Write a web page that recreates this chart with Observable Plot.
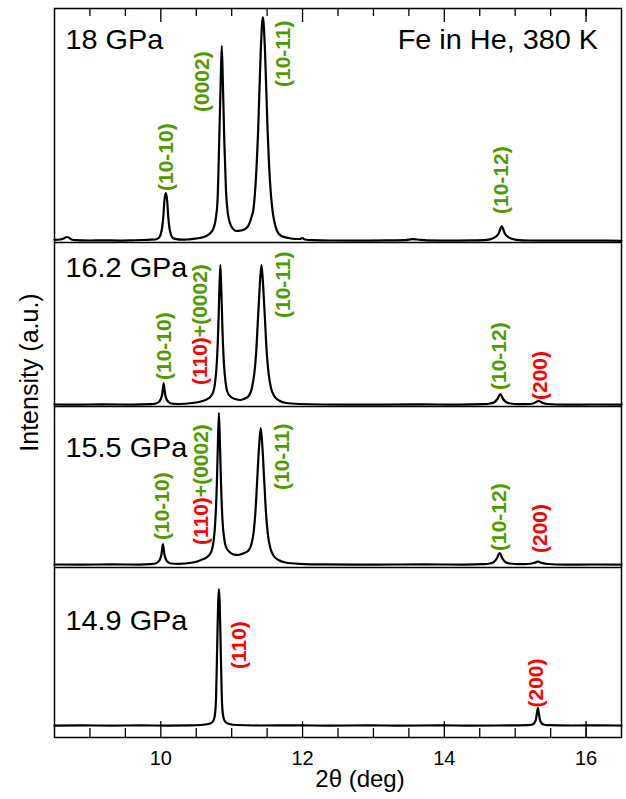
<!DOCTYPE html>
<html><head><meta charset="utf-8">
<script src="https://cdn.jsdelivr.net/npm/d3@7"></script>
<script src="https://cdn.jsdelivr.net/npm/@observablehq/plot@0.6"></script>
<style>body{margin:0;background:#fff} svg{display:block}</style>
</head><body><div id="chart"></div>
<script>
// ---- data ----
const panels = ["18 GPa", "16.2 GPa", "15.5 GPa", "14.9 GPa"];
const offsets = [496.5, 332.5, 172.5, 11.5];      // baseline of each stacked pattern (a.u.)
const separators = [495, 331, 170];                // panel boundaries (a.u.)
const panelLabelY = [192, 128, 108, 96.5];         // panel label height above baseline
const title = "Fe in He, 380 K";

const spec18 = [[8.5,1.2],[8.58,1.5],[8.63,2.5],[8.67,4],[8.7,3.5],[8.74,1.5],[8.8,0.8],[9.0,0.5],[9.2,0.7],[9.4,0.4],[9.6,0.7],[9.75,1],[9.85,1.3],
 [9.92,1.5],[9.97,3],[10.0,7],[10.02,14],[10.035,24],[10.05,40],[10.07,48],[10.09,40],[10.105,24],[10.12,14],[10.14,7],[10.17,3],[10.22,1.8],[10.3,1.3],[10.38,1.5],[10.46,2.2],
 [10.55,3],[10.64,5],[10.7,8],[10.74,12],[10.775,22],[10.8,40],[10.823,97],[10.845,160],[10.86,195],[10.875,160],[10.897,97],[10.92,50],[10.945,28],[10.98,17],[11.02,12],[11.07,10],
 [11.13,10.5],[11.19,12],[11.24,16],[11.28,24],[11.305,31],[11.34,60],[11.374,112],[11.41,190],[11.44,224],[11.47,190],[11.506,112],[11.54,60],[11.575,31],[11.6,20],[11.64,10],[11.7,5],[11.8,3],[11.9,2],
 [11.96,2],[12.0,3],[12.03,1.5],[12.15,0.8],[12.4,0.5],[12.8,0.4],[13.2,0.6],[13.45,0.8],[13.55,1.8],[13.62,1.5],[13.75,0.6],[14.1,0.4],[14.4,0.6],
 [14.6,1.2],[14.68,2.5],[14.73,4.5],[14.77,8],[14.79,12],[14.81,15],[14.83,12],[14.85,8],[14.89,4.5],[14.94,2.5],[15.02,1.2],[15.2,0.5],[15.6,0.3],[16.0,0.4],[16.5,0.2]];

const spec162 = [[8.5,0.5],[8.8,0.4],[9.2,0.6],[9.6,0.4],[9.85,0.8],[9.93,1.5],[9.97,3],[10.0,6],[10.02,11],[10.04,22],[10.06,11],[10.08,6],[10.11,3],[10.15,1.5],[10.25,1],
 [10.44,2],[10.59,4],[10.69,7.5],[10.74,13],[10.765,22],[10.79,42],[10.81,75],[10.825,112],[10.84,140],[10.855,112],[10.87,75],[10.89,42],[10.915,22],[10.94,13],[10.99,8],[11.05,6],[11.12,5],
 [11.17,6],[11.24,9],[11.285,17],[11.32,32],[11.345,52],[11.37,85],[11.395,118],[11.42,140],[11.445,118],[11.47,85],[11.495,52],[11.52,32],[11.555,17],[11.6,9],[11.67,4.5],[11.77,2],[11.95,1],
 [12.3,0.5],[13.0,0.4],[13.6,0.6],[14.2,0.4],[14.55,0.8],[14.65,1.5],[14.71,3],[14.75,6],[14.79,11],[14.83,6],[14.87,3],[14.93,1.5],[15.05,0.8],
 [15.2,1],[15.27,2],[15.31,3.5],[15.33,4],[15.35,3.5],[15.39,2],[15.46,1],[15.7,0.4],[16.1,0.5],[16.5,0.4]];

const spec155 = [[8.5,0.5],[8.9,0.4],[9.3,0.6],[9.7,0.4],[9.85,0.8],[9.92,1.5],[9.96,3],[9.99,6],[10.01,11],[10.03,21],[10.05,11],[10.07,6],[10.1,3],[10.14,1.5],[10.25,1.2],
 [10.45,2.5],[10.57,5],[10.67,9],[10.72,15],[10.745,24],[10.77,45],[10.79,80],[10.805,120],[10.82,152],[10.835,120],[10.85,80],[10.87,45],[10.895,26],[10.92,18],[10.97,13],[11.03,10.5],[11.09,10],
 [11.16,11.5],[11.23,14],[11.275,20],[11.31,33],[11.335,53],[11.36,85],[11.385,117],[11.41,137],[11.435,116],[11.46,83],[11.485,51],[11.51,31],[11.545,17],[11.59,9.5],[11.66,5],[11.76,2.5],[11.95,1.2],
 [12.3,0.6],[13.0,0.4],[13.7,0.6],[14.3,0.4],[14.55,0.8],[14.64,1.5],[14.7,3],[14.74,6.5],[14.78,12],[14.82,6.5],[14.86,3],[14.92,1.5],[15.05,0.8],
 [15.18,1],[15.26,2],[15.3,3],[15.32,3.5],[15.34,3],[15.38,2],[15.46,1],[15.7,0.4],[16.1,0.5],[16.5,0.4]];

const spec149 = [[8.5,0.4],[8.9,0.6],[9.3,0.4],[9.7,0.6],[10.1,0.4],[10.4,0.6],
 [10.57,1],[10.67,2],[10.72,3.5],[10.745,6],[10.765,12],[10.78,30],[10.792,68],[10.8,95],[10.81,125],[10.82,137],[10.83,125],[10.84,95],[10.848,68],[10.86,30],[10.875,12],[10.895,6],[10.92,3.5],[10.97,2],[11.07,1],
 [11.4,0.5],[11.9,0.6],[12.4,0.4],[12.9,0.6],[13.4,0.4],[13.9,0.6],[14.4,0.4],[14.9,0.6],
 [15.18,0.8],[15.24,1.5],[15.27,3],[15.29,6],[15.305,12],[15.32,18],[15.335,12],[15.35,6],[15.37,3],[15.4,1.5],[15.46,0.8],[15.8,0.5],[16.2,0.6],[16.5,0.4]];

const spectra = [spec18, spec162, spec155, spec149];

// peak labels: [panel index, 2θ, height of label start above baseline, text, phase]
const peakLabels = [
  [0, 10.07, 50, "(10-10)", "hcp"], [0, 10.59, 129, "(0002)", "hcp"], [0, 11.73, 154, "(10-11)", "hcp"], [0, 14.81, 27, "(10-12)", "hcp"],
  [1, 10.05, 25, "(10-10)", "hcp"], [1, 10.55, 20, "(110)+(0002)", "mix"], [1, 11.73, 87, "(10-11)", "hcp"], [1, 14.77, 15, "(10-12)", "hcp"], [1, 15.36, 5, "(200)", "bcc"],
  [2, 10.02, 25, "(10-10)", "hcp"], [2, 10.57, 20, "(110)+(0002)", "mix"], [2, 11.72, 75, "(10-11)", "hcp"], [2, 14.77, 14, "(10-12)", "hcp"], [2, 15.35, 12, "(200)", "bcc"],
  [3, 11.11, 57, "(110)", "bcc"], [3, 15.30, 18.5, "(200)", "bcc"]
];
const xMinor = [9, 9.5, 10.5, 11, 11.5, 12.5, 13, 13.5, 14.5, 15, 15.5, 16];
const xMajor = [10, 12, 14, 16];
const GREEN = "#4f9a00", RED = "#ff0000";

// ---- build ----
const rows = spectra.flatMap((s, i) => s.map(([x, v]) => ({panel: panels[i], x, y: offsets[i] + v})));
const labRows = peakLabels.map(([i, x, h, text, phase]) => ({x, y: offsets[i] + h, text, phase}));
const panelRows = panels.map((p, i) => ({text: p, x: 8.655, y: offsets[i] + panelLabelY[i]}));

const font = "'Liberation Sans', Arial, Helvetica, sans-serif";
const chart = Plot.plot({
  width: 626, height: 799,
  marginLeft: 54, marginRight: 5, marginTop: 8, marginBottom: 62,
  style: {fontFamily: font, background: "white", overflow: "visible"},
  x: {domain: [8.5, 16.5]},
  y: {domain: [0, 729], axis: null},
  marks: [
    Plot.ruleY(separators, {strokeWidth: 1.5}),
    Plot.line(rows, {x: "x", y: "y", z: "panel", stroke: "black", strokeWidth: 2.2, curve: "monotone-x"}),
    Plot.axisX({anchor: "bottom", ticks: xMinor, tickSize: -9, text: null, label: null, strokeWidth: 1.3}),
    Plot.axisX({anchor: "bottom", ticks: xMajor, tickSize: -16, text: null, label: null, strokeWidth: 1.3}),
    Plot.axisX({anchor: "top", ticks: xMinor, tickSize: -7, text: null, label: null, strokeWidth: 1.3}),
    Plot.axisX({anchor: "top", ticks: xMajor, tickSize: -13, text: null, label: null, strokeWidth: 1.3}),
    Plot.axisX({anchor: "bottom", ticks: xMajor, tickSize: 0, tickPadding: 13, label: null, fontSize: 20, tickFormat: d3.format("d")}),
    Plot.frame({strokeWidth: 1.5}),
    Plot.text(labRows, {x: "x", y: "y", text: "text", rotate: -90, textAnchor: "start", lineAnchor: "middle",
      fontWeight: "bold", fontSize: 21, fill: d => d.phase === "bcc" ? RED : GREEN}),
    Plot.text(panelRows, {x: "x", y: "y", text: "text", textAnchor: "start", lineAnchor: "bottom", fontSize: 26}),
    Plot.text([title], {x: 16.17, y: offsets[0] + panelLabelY[0], text: d => d, textAnchor: "end", lineAnchor: "bottom", fontSize: 26}),
    Plot.text(["2θ (deg)"], {x: 12.81, y: -49, text: d => d, textAnchor: "middle", lineAnchor: "bottom", fontSize: 24}),
    Plot.text(["Intensity (a.u.)"], {x: 8.16, y: 365, text: d => d, rotate: -90, textAnchor: "middle", lineAnchor: "middle", fontSize: 25})
  ]
});

const wide = new Set([...panels, title]);
d3.select(chart).selectAll("text").each(function() {
  const el = d3.select(this);
  const s = this.textContent;
  if (s === "(110)+(0002)") {
    // two-coloured label
    el.text(null);
    el.append("tspan").attr("fill", RED).text("(110)");
    el.append("tspan").attr("fill", GREEN).text("+(0002)");
  } else if (wide.has(s)) {
    // the original's Helvetica is set wider: stretch these labels a little
    let tr = el.attr("transform");
    if (!tr) {
      const x = +el.attr("x") || 0, y = +el.attr("y") || 0;
      el.attr("x", null).attr("y", null);
      tr = `translate(${x},${y})`;
    }
    el.attr("transform", tr + " scale(1.11,1.04)");
  }
});
document.getElementById("chart").appendChild(chart);
</script>
</body></html>
